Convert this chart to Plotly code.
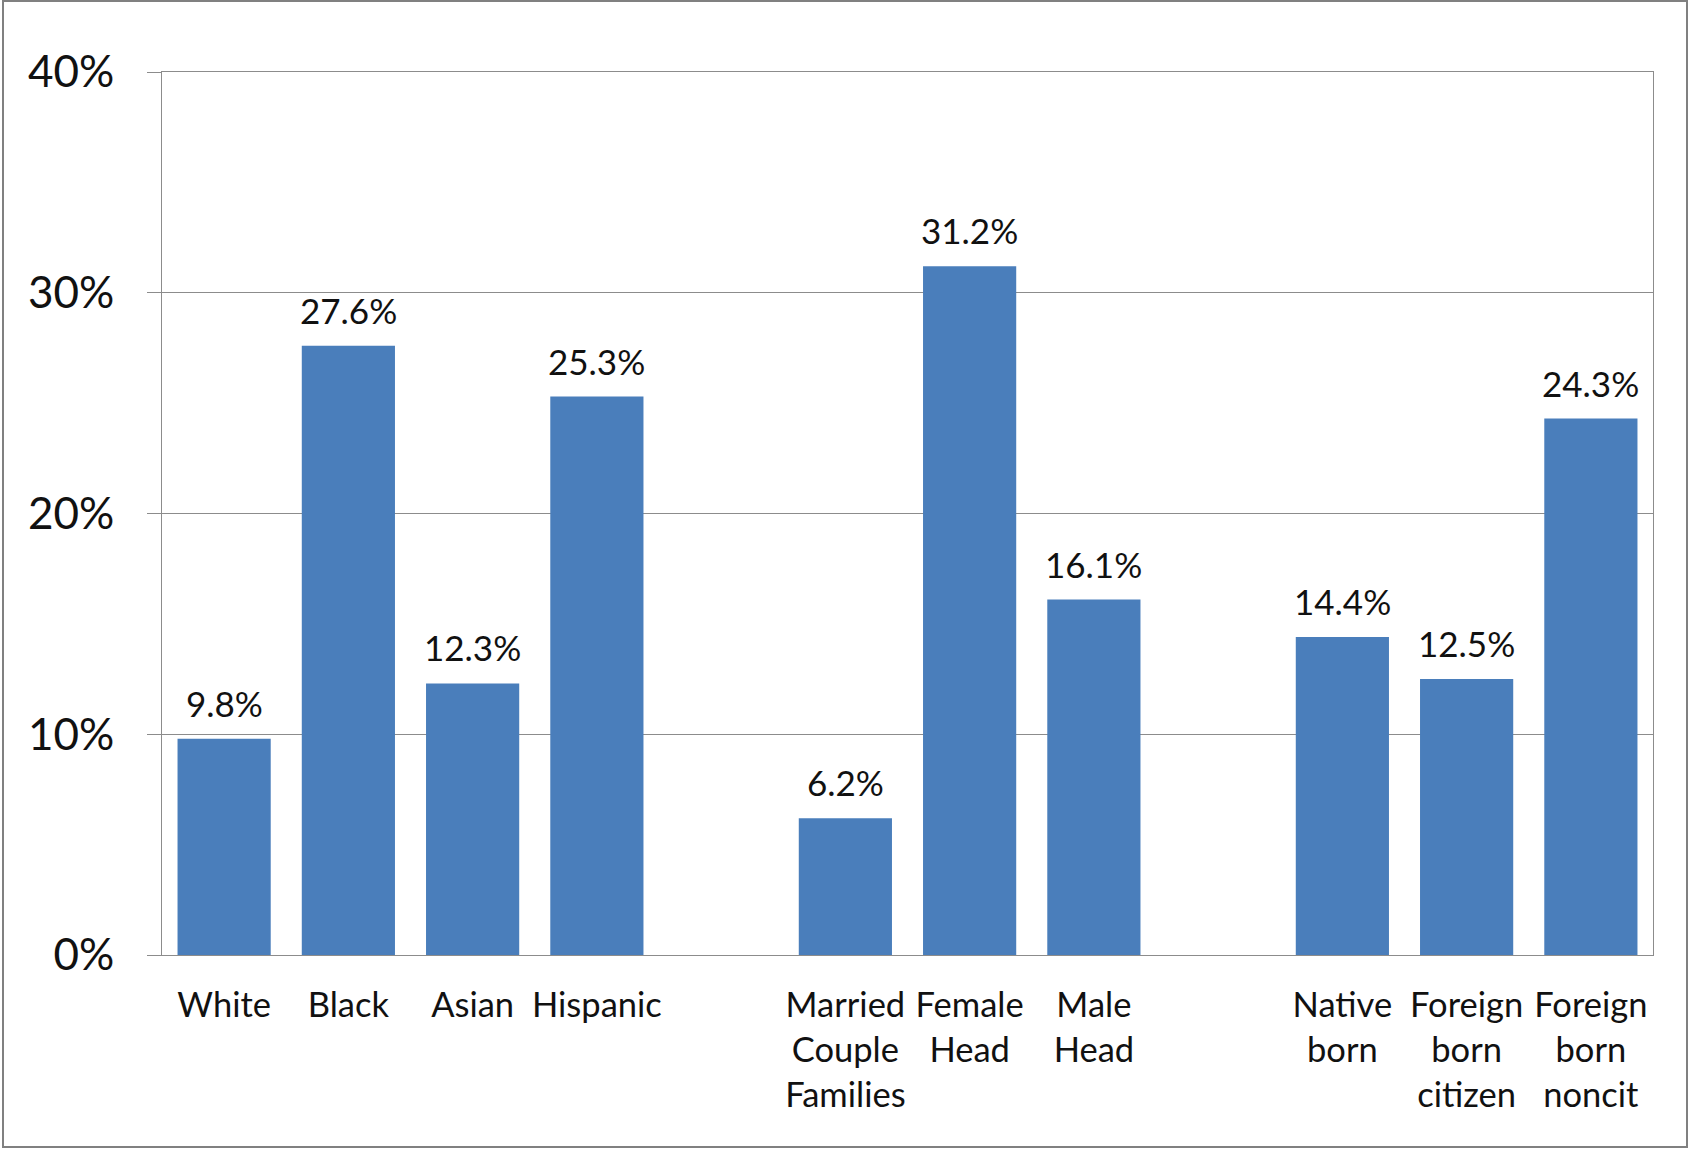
import plotly.graph_objects as go

# ---- data ----
groups = [
    ["White", "Black", "Asian", "Hispanic"],
    ["Married<br>Couple<br>Families", "Female<br>Head", "Male<br>Head"],
    ["Native<br>born", "Foreign<br>born<br>citizen", "Foreign<br>born<br>noncit"],
]
values = [
    [9.8, 27.6, 12.3, 25.3],
    [6.2, 31.2, 16.1],
    [14.4, 12.5, 24.3],
]
y_tick_vals = [0, 10, 20, 30, 40]
y_tick_text = ["0%", "10%", "20%", "30%", "40%"]

# ---- positions: one empty slot between groups ----
labels, vals, pos = [], [], []
slot = 0
for gi, (g, v) in enumerate(zip(groups, values)):
    for lab, val in zip(g, v):
        labels.append(lab)
        vals.append(val)
        pos.append(slot)
        slot += 1
    if gi < len(groups) - 1:
        slot += 1
n_slots = slot

FONT = "Lato, 'Open Sans', sans-serif"
GRID = "#8c8c8c"
BAR = "#4a7ebb"

fig = go.Figure()
fig.add_trace(go.Bar(
    x=pos, y=vals, width=0.75,
    marker=dict(color=BAR, line=dict(width=0)),
    hoverinfo="skip",
))

for x, v in zip(pos, vals):
    fig.add_annotation(
        x=x, y=v, text=f"{v}%", showarrow=False,
        yanchor="bottom", yshift=13,
        font=dict(family=FONT, size=35, color="#111111"),
    )

fig.update_layout(
    width=1690, height=1149,
    margin=dict(l=162, r=37, t=72, b=194, pad=0),
    paper_bgcolor="white", plot_bgcolor="white",
    showlegend=False,
    bargap=0.25,
    font=dict(family=FONT, color="#111111"),
    xaxis=dict(
        range=[-0.5, n_slots - 0.5],
        tickmode="array", tickvals=pos, ticktext=labels,
        showgrid=False, zeroline=False,
        showline=True, mirror=True, linecolor=GRID, linewidth=1,
        ticks="", ticklabelstandoff=20,
        tickfont=dict(family=FONT, size=34.5, color="#111111"),
        fixedrange=True,
    ),
    yaxis=dict(
        range=[0, 40],
        tickmode="array", tickvals=y_tick_vals, ticktext=y_tick_text,
        showgrid=True, gridcolor=GRID, gridwidth=1, zeroline=False,
        showline=True, mirror=True, linecolor=GRID, linewidth=1,
        ticks="outside", ticklen=14, tickcolor=GRID, tickwidth=1,
        ticklabelstandoff=24,
        tickfont=dict(family=FONT, size=44, color="#111111"),
        fixedrange=True,
    ),
    shapes=[dict(
        type="rect", xref="paper", yref="paper",
        x0=(3 - 162) / 1491, x1=(1687 - 162) / 1491,
        y0=(955 - 1147) / 883, y1=(955 - 1) / 883,
        line=dict(color="#808080", width=2), fillcolor="rgba(0,0,0,0)",
        layer="below",
    )],
)

fig.write_html("out.html", config={"displayModeBar": False},
               post_script="document.body.style.margin='0';")
